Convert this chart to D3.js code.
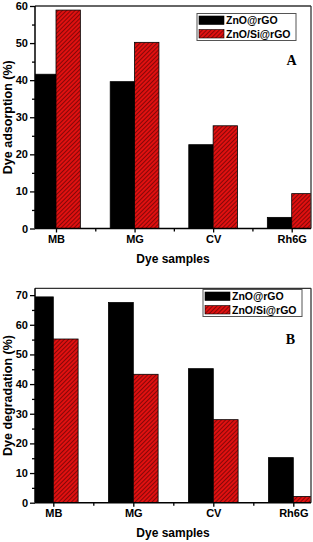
<!DOCTYPE html>
<html>
<head>
<meta charset="utf-8">
<script src="https://cdn.jsdelivr.net/npm/d3@7"></script>
<style>
  body { margin: 0; background: #fff; }
  svg { display: block; font-family: "Liberation Sans", Arial, sans-serif; }
</style>
</head>
<body>
<div id="chart"></div>
<script>
// Dye samples and the two composites
const dyes = ["MB", "MG", "CV", "Rh6G"];
const seriesNames = ["ZnO@rGO", "ZnO/Si@rGO"];

// Panel A: adsorption (%)
const adsorptionZnO = [41.6, 39.6, 22.6, 3.0];
const adsorptionZnOSi = [58.9, 50.2, 27.7, 9.4];
const adsorptionTicks = [0, 10, 20, 30, 40, 50, 60];

// Panel B: degradation (%)
const degradationZnO = [69.4, 67.5, 45.2, 15.2];
const degradationZnOSi = [55.2, 43.3, 28.0, 2.1];
const degradationTicks = [0, 10, 20, 30, 40, 50, 60, 70];

const panels = [
  { id: "A", title: "Dye adsorption (%)", a: adsorptionZnO, b: adsorptionZnOSi, ticks: adsorptionTicks,
    yMax: 60, top: 6, bottom: 228.5, cx: [56, 291.7], legend: [197, 13.5], letter: [291.5, 65] },
  { id: "B", title: "Dye degradation (%)", a: degradationZnO, b: degradationZnOSi, ticks: degradationTicks,
    yMax: 72.3, top: 288.3, bottom: 502.7, cx: [53.3, 293.3], legend: [203, 289.5], letter: [290.5, 343.5] }
];

const W = 313, H = 542;
const left = 35, right = 311;

const svg = d3.select("#chart").append("svg")
  .attr("width", W)
  .attr("height", H);

const defs = svg.append("defs");

// red hatch fill
const pat = defs.append("pattern")
  .attr("id", "hatch")
  .attr("patternUnits", "userSpaceOnUse")
  .attr("width", 3)
  .attr("height", 3)
  .attr("patternTransform", "rotate(45)");
pat.append("rect").attr("width", 3).attr("height", 3).attr("fill", "#e01010");
pat.append("line").attr("x1", 0).attr("y1", 0).attr("x2", 0).attr("y2", 3)
  .attr("stroke", "#3a0000").attr("stroke-width", 1.1);

panels.forEach(p => {
  const y = d3.scaleLinear().domain([0, p.yMax]).range([p.bottom, p.top]);
  const x = d3.scaleLinear().domain([0, dyes.length - 1]).range(p.cx);
  const step = x(1) - x(0);
  const bw = step * 0.31;

  const g = svg.append("g");

  defs.append("clipPath").attr("id", "clip" + p.id)
    .append("rect")
    .attr("x", left).attr("y", p.top)
    .attr("width", right - left).attr("height", p.bottom - p.top);

  const bars = g.append("g").attr("clip-path", `url(#clip${p.id})`);

  bars.selectAll("rect.s0")
    .data(p.a)
    .join("rect")
    .attr("class", "s0")
    .attr("x", (d, i) => x(i) - bw)
    .attr("y", d => y(d))
    .attr("width", bw)
    .attr("height", d => y(0) - y(d))
    .attr("fill", "#000")
    .attr("stroke", "#000")
    .attr("stroke-width", 0.8);

  bars.selectAll("rect.s1")
    .data(p.b)
    .join("rect")
    .attr("class", "s1")
    .attr("x", (d, i) => x(i))
    .attr("y", d => y(d))
    .attr("width", bw)
    .attr("height", d => y(0) - y(d))
    .attr("fill", "url(#hatch)")
    .attr("stroke", "#000")
    .attr("stroke-width", 0.8);

  // frame top / right
  g.append("line").attr("x1", left).attr("x2", right).attr("y1", p.top).attr("y2", p.top)
    .attr("stroke", "#333").attr("stroke-width", 1.3);
  g.append("line").attr("x1", right).attr("x2", right).attr("y1", p.top).attr("y2", p.bottom)
    .attr("stroke", "#333").attr("stroke-width", 1.3);

  // y axis
  const minorY = d3.range(5, p.yMax, 10);
  g.append("g")
    .attr("transform", `translate(${left},0)`)
    .call(d3.axisLeft(y).tickValues(minorY).tickSize(3).tickFormat(""))
    .call(a => a.select(".domain").remove())
    .call(a => a.selectAll("line").attr("stroke-width", 1.3));
  const yAx = g.append("g")
    .attr("transform", `translate(${left},0)`)
    .call(d3.axisLeft(y).tickValues(p.ticks).tickSize(5).tickPadding(2).tickSizeOuter(0));
  yAx.select(".domain").attr("d", `M0,${p.top}V${p.bottom}`).attr("stroke-width", 1.5);
  yAx.selectAll("line").attr("stroke-width", 1.3);
  yAx.selectAll("text").attr("font-size", 11).attr("font-weight", "bold").attr("fill", "#000")
    .attr("font-family", "'Liberation Sans', Arial, sans-serif");

  // x axis
  g.append("g")
    .attr("transform", `translate(0,${p.bottom})`)
    .call(d3.axisBottom(x).tickValues([0.5, 1.5, 2.5]).tickSize(3).tickFormat(""))
    .call(a => a.select(".domain").remove())
    .call(a => a.selectAll("line").attr("stroke-width", 1.3));
  const xAx = g.append("g")
    .attr("transform", `translate(0,${p.bottom})`)
    .call(d3.axisBottom(x).tickValues(d3.range(dyes.length)).tickFormat(i => dyes[i])
      .tickSize(4).tickPadding(3).tickSizeOuter(0));
  xAx.select(".domain").attr("d", `M${left},0H${right}`).attr("stroke-width", 1.5);
  xAx.selectAll("line").attr("stroke-width", 1.3);
  xAx.selectAll("text").attr("font-size", 11).attr("font-weight", "bold").attr("fill", "#000")
    .attr("font-family", "'Liberation Sans', Arial, sans-serif");

  // axis titles
  g.append("text")
    .attr("transform", `translate(12,${(p.top + p.bottom) / 2}) rotate(-90)`)
    .attr("text-anchor", "middle")
    .attr("font-size", 12.5)
    .attr("font-weight", "bold")
    .text(p.title);
  g.append("text")
    .attr("x", 173)
    .attr("y", p.bottom + 34)
    .attr("text-anchor", "middle")
    .attr("font-size", 12)
    .attr("font-weight", "bold")
    .text("Dye samples");

  // legend
  const [lx, ly] = p.legend;
  const lg = g.append("g").attr("transform", `translate(${lx},${ly})`);
  lg.append("rect").attr("width", 99).attr("height", 27)
    .attr("fill", "#fff").attr("stroke", "#555").attr("stroke-width", 1);
  seriesNames.forEach((s, i) => {
    lg.append("rect")
      .attr("x", 2).attr("y", 2.5 + i * 13.5)
      .attr("width", 25).attr("height", 8.5)
      .attr("fill", i === 0 ? "#000" : "url(#hatch)")
      .attr("stroke", "#000").attr("stroke-width", 0.6);
    lg.append("text")
      .attr("x", 29).attr("y", 10.8 + i * 13.5)
      .attr("font-size", 10.5)
      .attr("font-weight", "bold")
      .text(s);
  });

  // panel letter
  g.append("text")
    .attr("x", p.letter[0]).attr("y", p.letter[1])
    .attr("text-anchor", "middle")
    .attr("font-family", "'Liberation Serif', 'Times New Roman', serif")
    .attr("font-size", 14)
    .attr("font-weight", "bold")
    .text(p.id);
});
</script>
</body>
</html>
